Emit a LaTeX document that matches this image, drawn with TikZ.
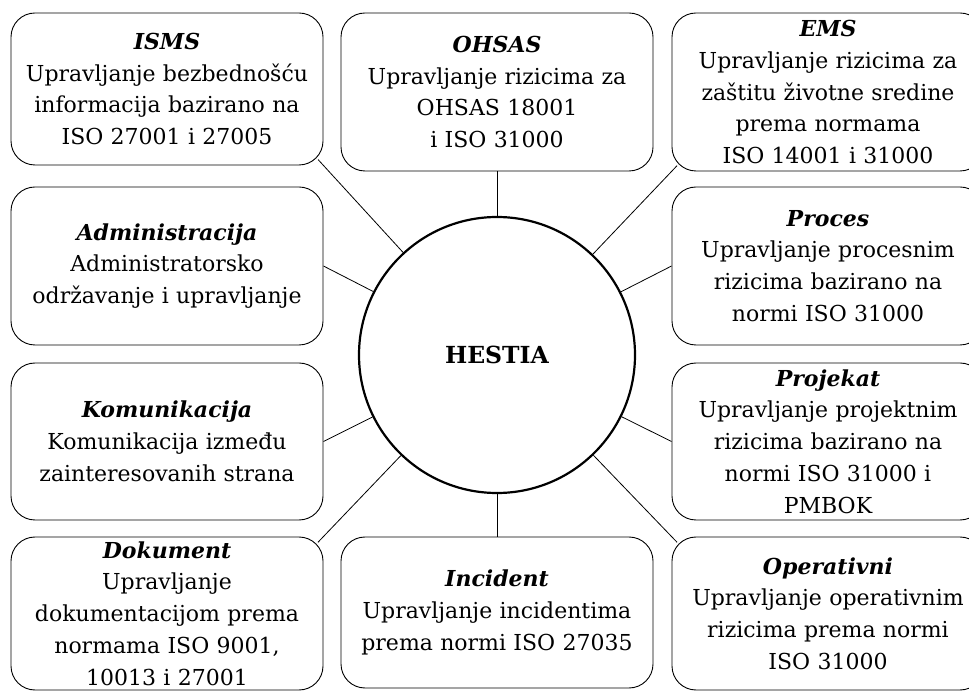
\documentclass[tikz,border=0pt]{standalone}
\usepackage{fontspec}
\setmainfont{DejaVu Serif}
\begin{document}
\begin{tikzpicture}[x=1pt,y=1pt,
  box/.style={draw, line width=0.9pt, rounded corners=24pt, minimum width=312pt,
    text width=310pt, align=center, inner sep=0pt,
    font=\fontsize{22}{31.8}\selectfont},
  hub/.style={draw, circle, line width=2.2pt, minimum size=276pt, inner sep=0pt,
    font=\bfseries\fontsize{23.5}{28}\selectfont},
  link/.style={line width=0.8pt}]
\useasboundingbox (0,0) rectangle (969,691);
\clip (0,0) rectangle (969,691);

\node[hub] (hub) at (497,336) {HESTIA};

\node[box, minimum height=152pt] (isms) at (167,602)
  {\textbf{\textit{ISMS}}\\Upravljanje bezbednošću\\informacija bazirano na\\ISO 27001 i 27005};
\node[box, minimum height=158pt] (ohs) at (497,599)
  {\textbf{\textit{OHSAS}}\\Upravljanje rizicima za\\OHSAS 18001\\i ISO 31000};
\node[box, minimum height=158pt] (ems) at (828,599)
  {\textbf{\textit{EMS}}\\Upravljanje rizicima za\\zaštitu životne sredine\\prema normama\\ISO 14001 i 31000};

\node[box, minimum height=158pt] (adm) at (167,425)
  {\textbf{\textit{Administracija}}\\Administratorsko\\održavanje i upravljanje};
\node[box, minimum height=158pt] (pro) at (828,425)
  {\textbf{\textit{Proces}}\\Upravljanje procesnim\\rizicima bazirano na\\normi ISO 31000};

\node[box, minimum height=157pt] (kom) at (167,249.5)
  {\textbf{\textit{Komunikacija}}\\Komunikacija između\\zainteresovanih strana};
\node[box, minimum height=157pt] (prj) at (828,249.5)
  {\textbf{\textit{Projekat}}\\Upravljanje projektnim\\rizicima bazirano na\\normi ISO 31000 i\\PMBOK};

\node[box, minimum height=153pt] (dok) at (167,77.5)
  {\textbf{\textit{Dokument}}\\Upravljanje\\dokumentacijom prema\\normama ISO 9001,\\10013 i 27001};
\node[box, minimum height=151pt] (inc) at (497,78.5)
  {\textbf{\textit{Incident}}\\Upravljanje incidentima\\prema normi ISO 27035};
\node[box, minimum height=153pt] (ope) at (828,77.5)
  {\textbf{\textit{Operativni}}\\Upravljanje operativnim\\rizicima prema normi\\ISO 31000};

\draw[link] (hub) -- (ohs.south);
\draw[link] (hub) -- (inc.north);
\draw[link] (hub) -- (adm.east);
\draw[link] (hub) -- (pro.west);
\draw[link] (hub) -- (kom.east);
\draw[link] (hub) -- (prj.west);
\draw[link, shorten >=-8pt] (hub) -- (isms.south east);
\draw[link, shorten >=-8pt] (hub) -- (ems.south west);
\draw[link, shorten >=-8pt] (hub) -- (dok.north east);
\draw[link, shorten >=-8pt] (hub) -- (ope.north west);
\end{tikzpicture}
\end{document}
